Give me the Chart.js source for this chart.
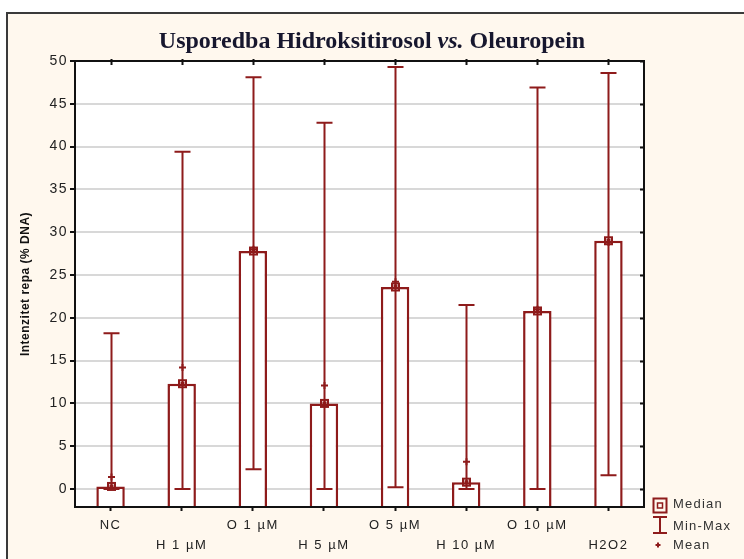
<!DOCTYPE html>
<html>
<head>
<meta charset="utf-8">
<script src="https://cdn.jsdelivr.net/npm/chart.js@4.4.1/dist/chart.umd.min.js"></script>
<style>
  html, body { margin: 0; padding: 0; background: #fff; }
  canvas { display: block; }
</style>
</head>
<body>
<canvas id="chart" width="744" height="559"></canvas>
<script>
// Tail intensity per treatment: median (bar), min-max (whisker), mean (+)
const categories = ["NC", "H 1 µM", "O 1 µM", "H 5 µM", "O 5 µM", "H 10 µM", "O 10 µM", "H2O2"];
const medianValues = [0.3, 12.3, 27.8, 10.0, 23.6, 0.8, 20.8, 29.0];
const meanValues = [1.4, 14.2, 28.0, 12.1, 24.2, 3.2, 21.0, 28.8];
const minValues = [0, 0, 2.3, 0, 0.2, 0, 0, 1.6];
const maxValues = [18.2, 39.4, 48.1, 42.8, 49.3, 21.5, 46.9, 48.6];
const yTicks = [0, 5, 10, 15, 20, 25, 30, 35, 40, 45, 50];
const Y_MIN = -2.1;
const Y_MAX = 50;

const darkRed = "#8e1b1b";
const tickFont = { family: "'Liberation Sans', Arial, sans-serif", size: 14 };

function drawMedianMark(ctx, cx, cy, size) {
    ctx.lineWidth = 2;
    ctx.strokeRect(cx - size / 2, cy - size / 2, size, size);
    const inner = Math.max(2, size * 0.35);
    ctx.lineWidth = 1.5;
    ctx.strokeRect(cx - inner / 2, cy - inner / 2, inner, inner);
}

function drawMeanMark(ctx, cx, cy, r) {
    ctx.lineWidth = 2;
    ctx.beginPath();
    ctx.moveTo(cx - r, cy);
    ctx.lineTo(cx + r, cy);
    ctx.moveTo(cx, cy - r);
    ctx.lineTo(cx, cy + r);
    ctx.stroke();
}

const boxMarks = {
    id: "boxMarks",
    beforeDraw(chart) {
        const { ctx, chartArea: a } = chart;
        ctx.save();
        ctx.fillStyle = "#fff";
        ctx.fillRect(0, 0, chart.width, chart.height);
        ctx.fillStyle = "#fff8ee";
        ctx.fillRect(7, 13, chart.width, chart.height);
        ctx.strokeStyle = "#3a3a3a";
        ctx.lineWidth = 2;
        ctx.strokeRect(7, 13, chart.width + 20, chart.height + 20);
        ctx.fillStyle = "#fff";
        ctx.fillRect(a.left, a.top, a.right - a.left, a.bottom - a.top);
        ctx.restore();
        ctx.letterSpacing = "1.5px";
    },
    afterDatasetsDraw(chart) {
        const { ctx } = chart;
        const x = chart.scales.x;
        const y = chart.scales.y;
        ctx.save();
        ctx.strokeStyle = darkRed;
        ctx.fillStyle = darkRed;
        categories.forEach((c, i) => {
            const cx = Math.round(x.getPixelForValue(i)) + 0.5;
            const top = y.getPixelForValue(maxValues[i]);
            const bottom = y.getPixelForValue(minValues[i]);
            ctx.lineWidth = 2;
            ctx.beginPath();
            ctx.moveTo(cx, top);
            ctx.lineTo(cx, bottom);
            ctx.moveTo(cx - 8, top);
            ctx.lineTo(cx + 8, top);
            ctx.moveTo(cx - 8, bottom);
            ctx.lineTo(cx + 8, bottom);
            ctx.stroke();
            drawMeanMark(ctx, cx, y.getPixelForValue(meanValues[i]), 3.5);
            drawMedianMark(ctx, cx, y.getPixelForValue(medianValues[i]), 7);
        });
        ctx.restore();
    },
    afterDraw(chart) {
        const { ctx, chartArea: a } = chart;
        const x = chart.scales.x;
        const y = chart.scales.y;
        ctx.save();

        // plot frame with inner ticks on top and right
        ctx.strokeStyle = "#111";
        ctx.lineWidth = 2;
        ctx.strokeRect(a.left, a.top, a.right - a.left, a.bottom - a.top);
        ctx.beginPath();
        categories.forEach((c, i) => {
            const px = Math.round(x.getPixelForValue(i)) + 0.5;
            ctx.moveTo(px, a.top - 2);
            ctx.lineTo(px, a.top + 4);
        });
        yTicks.forEach((v) => {
            const py = Math.round(y.getPixelForValue(v)) + 0.5;
            ctx.moveTo(a.right - 4, py);
            ctx.lineTo(a.right + 1, py);
        });
        ctx.stroke();

        // title
        ctx.letterSpacing = "0px";
        ctx.fillStyle = "#17172e";
        ctx.textBaseline = "alphabetic";
        const parts = [
            ["bold 24px 'Liberation Serif', 'Times New Roman', serif", "Usporedba Hidroksitirosol "],
            ["italic bold 24px 'Liberation Serif', 'Times New Roman', serif", "vs."],
            ["bold 24px 'Liberation Serif', 'Times New Roman', serif", " Oleuropein"],
        ];
        let total = 0;
        parts.forEach(([f, t]) => { ctx.font = f; total += ctx.measureText(t).width; });
        let tx = 372 - total / 2;
        ctx.textAlign = "left";
        parts.forEach(([f, t]) => {
            ctx.font = f;
            ctx.fillText(t, tx, 48);
            tx += ctx.measureText(t).width;
        });

        // y axis title
        ctx.save();
        ctx.translate(26, (a.top + a.bottom) / 2);
        ctx.rotate(-Math.PI / 2);
        ctx.font = "bold 12px 'Liberation Sans', Arial, sans-serif";
        ctx.letterSpacing = "0.5px";
        ctx.fillStyle = "#111";
        ctx.textAlign = "center";
        ctx.textBaseline = "middle";
        ctx.fillText("Intenzitet repa (% DNA)", 0, 0);
        ctx.restore();

        // legend
        const lx = 660;
        ctx.strokeStyle = darkRed;
        ctx.fillStyle = darkRed;
        ctx.lineWidth = 2;
        ctx.strokeRect(lx - 6.5, 498.5, 13, 14);
        ctx.lineWidth = 1.5;
        ctx.strokeRect(lx - 2.5, 503, 5, 5);
        ctx.lineWidth = 2;
        ctx.beginPath();
        ctx.moveTo(lx - 7, 517);
        ctx.lineTo(lx + 7, 517);
        ctx.moveTo(lx, 517);
        ctx.lineTo(lx, 533);
        ctx.moveTo(lx - 7, 533);
        ctx.lineTo(lx + 7, 533);
        ctx.stroke();
        drawMeanMark(ctx, lx - 2, 545, 2.5);

        ctx.font = "13px 'Liberation Sans', Arial, sans-serif";
        ctx.letterSpacing = "1.2px";
        ctx.fillStyle = "#333";
        ctx.textAlign = "left";
        ctx.textBaseline = "middle";
        ctx.fillText("Median", 673, 504);
        ctx.fillText("Min-Max", 673, 526);
        ctx.fillText("Mean", 673, 545);
        ctx.restore();
    },
};

new Chart(document.getElementById("chart"), {
    type: "bar",
    data: {
        labels: categories,
        datasets: [{
            label: "Median",
            data: medianValues,
            base: Y_MIN,
            backgroundColor: "#fff",
            borderColor: darkRed,
            borderWidth: 2.5,
            borderSkipped: "start",
            categoryPercentage: 1,
            barPercentage: 0.4,
        }],
    },
    options: {
        responsive: false,
        animation: false,
        devicePixelRatio: 1,
        layout: { padding: { top: 61, right: 100, left: 0, bottom: 0 } },
        plugins: {
            legend: { display: false },
            title: { display: false },
            tooltip: { enabled: false },
        },
        scales: {
            x: {
                offset: true,
                afterFit: (s) => { s.height = 52; },
                grid: {
                    offset: false,
                    drawOnChartArea: false,
                    drawTicks: true,
                    tickLength: 4,
                    tickColor: "#111",
                    tickWidth: 2,
                },
                border: { display: true, color: "#111", width: 2 },
                ticks: {
                    autoSkip: false,
                    maxRotation: 0,
                    padding: 4,
                    color: "#222",
                    font: { ...tickFont, size: 13, lineHeight: "20px" },
                    callback: (value, index) => (index % 2 ? ["", categories[index]] : categories[index]),
                },
            },
            y: {
                min: Y_MIN,
                max: Y_MAX,
                afterFit: (s) => { s.width = 75; },
                afterBuildTicks: (s) => { s.ticks = yTicks.map((v) => ({ value: v })); },
                grid: {
                    color: "#d8d8d8",
                    lineWidth: 2,
                    drawTicks: true,
                    tickLength: 5,
                    tickColor: "#111",
                    tickWidth: 2,
                },
                border: { display: true, color: "#111", width: 2 },
                ticks: {
                    padding: 2,
                    color: "#222",
                    font: tickFont,
                },
            },
        },
    },
    plugins: [boxMarks],
});
</script>
</body>
</html>
